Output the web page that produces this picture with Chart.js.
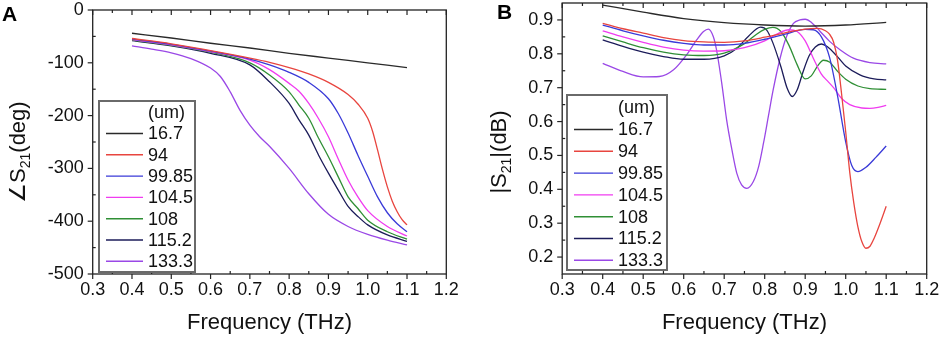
<!DOCTYPE html>
<html><head><meta charset="utf-8">
<script src="https://cdn.jsdelivr.net/npm/chart.js@4"></script>
<style>
html,body{margin:0;padding:0;background:#fff;width:941px;height:342px;overflow:hidden}
.p{position:absolute;top:0;height:342px}
#wa{left:0;width:470px}#wb{left:470px;width:471px}
</style></head><body>
<div class="p" id="wa"><canvas id="ca" width="470" height="342"></canvas></div>
<div class="p" id="wb"><canvas id="cb" width="471" height="342"></canvas></div>
<script>
// ---- data ----
const seriesLabels = ['16.7', '94', '99.85', '104.5', '108', '115.2', '133.3'];
const seriesColors = ['#2a2a2a', '#e8453f', '#3a3ad8', '#f03cf0', '#2f8f35', '#1c1c5a', '#9a48e6'];
const xTicks = [0.3, 0.4, 0.5, 0.6, 0.7, 0.8, 0.9, 1.0, 1.1, 1.2];
const yTicksA = [-500, -400, -300, -200, -100, 0];
const yTicksB = [0.2, 0.3, 0.4, 0.5, 0.6, 0.7, 0.8, 0.9];

// Panel A: phase of S21 (deg) vs frequency (THz)
const phase167 = [[0.4,-44],[0.5,-53],[0.6,-63],[0.7,-72],[0.8,-82],[0.9,-91],[1.0,-100],[1.1,-109]];
const phase94 = [[0.4,-54],[0.5,-64],[0.6,-77],[0.7,-91],[0.75,-99],[0.8,-109],[0.85,-121],[0.9,-137],[0.95,-160],[0.975,-178],[1.0,-205],[1.0125,-230],[1.025,-265],[1.0375,-302],[1.05,-335],[1.0625,-362],[1.075,-382],[1.0875,-397],[1.1,-407]];
const phase9985 = [[0.4,-55],[0.5,-65],[0.6,-78],[0.7,-93],[0.75,-104],[0.8,-118],[0.85,-137],[0.9,-168],[0.925,-196],[0.95,-233],[0.975,-275],[1.0,-315],[1.025,-354],[1.05,-384],[1.075,-405],[1.1,-420]];
const phase1045 = [[0.4,-56],[0.5,-66],[0.6,-79],[0.7,-95],[0.75,-113],[0.8,-139],[0.825,-154],[0.85,-177],[0.875,-206],[0.9,-240],[0.925,-282],[0.95,-322],[0.975,-354],[1.0,-380],[1.05,-410],[1.1,-428]];
const phase108 = [[0.4,-57],[0.5,-67],[0.6,-80],[0.7,-100],[0.75,-123],[0.8,-155],[0.825,-180],[0.85,-205],[0.875,-243],[0.9,-278],[0.925,-316],[0.95,-354],[0.975,-376],[1.0,-398],[1.05,-420],[1.1,-434]];
const phase1152 = [[0.4,-58],[0.5,-68],[0.6,-82],[0.7,-104],[0.75,-136],[0.8,-177],[0.825,-208],[0.85,-237],[0.875,-275],[0.9,-309],[0.925,-341],[0.95,-372],[0.975,-391],[1.0,-407],[1.05,-426],[1.1,-438]];
const phase1333 = [[0.4,-68],[0.45,-74],[0.5,-81],[0.55,-92],[0.6,-110],[0.625,-126],[0.65,-155],[0.675,-190],[0.7,-218],[0.725,-240],[0.75,-258],[0.8,-300],[0.85,-348],[0.9,-387],[0.95,-410],[1.0,-425],[1.05,-436],[1.1,-445]];

// Panel B: |S21| vs frequency (THz)
const mag167 = [[0.4,0.944],[0.5,0.923],[0.6,0.904],[0.7,0.892],[0.8,0.885],[0.9,0.882],[1.0,0.885],[1.1,0.893]];
const mag94 = [[0.4,0.890],[0.45,0.874],[0.5,0.861],[0.55,0.848],[0.6,0.839],[0.65,0.835],[0.7,0.834],[0.75,0.838],[0.8,0.849],[0.85,0.862],[0.9,0.873],[0.93,0.875],[0.95,0.868],[0.96,0.858],[0.97,0.835],[0.98,0.78],[0.99,0.68],[1.0,0.57],[1.01,0.45],[1.02,0.36],[1.03,0.29],[1.04,0.245],[1.05,0.226],[1.06,0.232],[1.07,0.255],[1.085,0.30],[1.1,0.35]];
const mag9985 = [[0.4,0.885],[0.45,0.868],[0.5,0.853],[0.55,0.840],[0.6,0.831],[0.65,0.826],[0.7,0.826],[0.75,0.831],[0.8,0.843],[0.85,0.858],[0.9,0.872],[0.92,0.871],[0.94,0.850],[0.96,0.790],[0.98,0.675],[1.0,0.54],[1.015,0.47],[1.03,0.452],[1.05,0.465],[1.075,0.495],[1.1,0.528]];
const mag1045 = [[0.4,0.868],[0.45,0.850],[0.5,0.834],[0.55,0.820],[0.6,0.811],[0.65,0.808],[0.7,0.809],[0.75,0.818],[0.8,0.838],[0.83,0.858],[0.86,0.871],[0.88,0.866],[0.9,0.838],[0.92,0.787],[0.94,0.740],[0.955,0.720],[0.97,0.700],[0.99,0.668],[1.01,0.650],[1.04,0.640],[1.06,0.639],[1.08,0.642],[1.1,0.648]];
const mag108 = [[0.4,0.853],[0.45,0.835],[0.5,0.818],[0.55,0.805],[0.6,0.797],[0.65,0.795],[0.7,0.802],[0.75,0.830],[0.78,0.858],[0.8,0.872],[0.82,0.878],[0.84,0.866],[0.86,0.825],[0.88,0.768],[0.9,0.726],[0.915,0.735],[0.93,0.763],[0.945,0.781],[0.96,0.776],[0.98,0.748],[1.0,0.725],[1.03,0.705],[1.06,0.697],[1.1,0.695]];
const mag1152 = [[0.4,0.841],[0.45,0.822],[0.5,0.805],[0.55,0.792],[0.6,0.784],[0.65,0.784],[0.7,0.794],[0.73,0.815],[0.76,0.852],[0.79,0.879],[0.805,0.870],[0.82,0.833],[0.84,0.762],[0.855,0.700],[0.868,0.674],[0.88,0.693],[0.895,0.748],[0.91,0.795],[0.925,0.820],[0.94,0.829],[0.955,0.821],[0.98,0.791],[1.0,0.764],[1.035,0.738],[1.07,0.726],[1.1,0.723]];
const mag1333 = [[0.4,0.772],[0.45,0.748],[0.5,0.732],[0.54,0.733],[0.575,0.753],[0.607,0.797],[0.632,0.841],[0.649,0.866],[0.661,0.873],[0.673,0.851],[0.681,0.812],[0.694,0.713],[0.706,0.605],[0.719,0.517],[0.731,0.448],[0.743,0.413],[0.756,0.403],[0.772,0.423],[0.785,0.467],[0.797,0.536],[0.809,0.615],[0.821,0.694],[0.838,0.787],[0.854,0.851],[0.871,0.890],[0.887,0.900],[0.9,0.902],[0.916,0.892],[0.937,0.866],[0.961,0.836],[0.986,0.812],[1.019,0.787],[1.06,0.774],[1.1,0.770]];

const phaseSeries = [phase167, phase94, phase9985, phase1045, phase108, phase1152, phase1333];
const magSeries = [mag167, mag94, mag9985, mag1045, mag108, mag1152, mag1333];

// ---- drawing ----
const FAM = "'Liberation Sans', Arial, 'DejaVu Sans', sans-serif";
const TXT = '#111';

function decor(cfg) {
  return {
    id: 'decor',
    afterDraw(chart) {
      const ctx = chart.ctx, a = chart.chartArea, xs = chart.scales.x, ys = chart.scales.y;
      ctx.save();
      const line = (x1, y1, x2, y2) => { ctx.beginPath(); ctx.moveTo(x1, y1); ctx.lineTo(x2, y2); ctx.stroke(); };
      ctx.strokeStyle = '#222';
      ctx.lineWidth = 1.3;
      ctx.strokeRect(a.left, a.top, a.right - a.left, a.bottom - a.top);
      ctx.lineWidth = 1.2;
      xTicks.forEach((v, i) => {
        const px = xs.getPixelForValue(v);
        line(px, a.bottom, px, a.bottom + 5);
        line(px, a.top, px, a.top + 5);
        if (i < xTicks.length - 1) {
          const pm = xs.getPixelForValue((v + xTicks[i + 1]) / 2);
          line(pm, a.bottom, pm, a.bottom - 3);
          line(pm, a.top, pm, a.top + 3);
        }
      });
      const yt = cfg.yTicks;
      yt.forEach((v, i) => {
        const py = ys.getPixelForValue(v);
        line(a.left - 5, py, a.left, py);
        if (i < yt.length - 1) {
          const pm = ys.getPixelForValue((v + yt[i + 1]) / 2);
          line(a.left, pm, a.left + 3, pm);
        }
      });
      // panel letter
      ctx.fillStyle = '#000';
      ctx.font = 'bold 21px ' + FAM;
      ctx.textBaseline = 'alphabetic';
      ctx.textAlign = 'left';
      ctx.fillText(cfg.letter, cfg.letterX, cfg.letterY);
      // y title with subscript
      ctx.save();
      ctx.translate(cfg.titleX, cfg.titleY);
      ctx.rotate(-Math.PI / 2);
      const big = '22px ' + FAM, small = '14px ' + FAM;
      let w = 0;
      cfg.titleParts.forEach(p => { ctx.font = p[1] ? small : big; w += ctx.measureText(p[0]).width; });
      let x = -w / 2;
      ctx.fillStyle = TXT;
      cfg.titleParts.forEach(p => {
        ctx.font = p[1] ? small : big;
        ctx.fillText(p[0], x, p[1] ? 13 : 8);
        x += ctx.measureText(p[0]).width;
      });
      ctx.restore();
      // legend
      const L = cfg.legend;
      ctx.fillStyle = '#fff';
      ctx.fillRect(L.x0, L.y0, L.x1 - L.x0, L.y1 - L.y0);
      ctx.strokeStyle = '#6a6a6a';
      ctx.lineWidth = 2;
      ctx.strokeRect(L.x0, L.y0, L.x1 - L.x0, L.y1 - L.y0);
      ctx.font = '18px ' + FAM;
      ctx.textBaseline = 'middle';
      ctx.fillStyle = TXT;
      ctx.fillText('(um)', L.tx, L.hy);
      chart.data.datasets.forEach((d, i) => {
        const y = L.ry + i * L.step;
        ctx.strokeStyle = d.borderColor;
        ctx.lineWidth = 1.4;
        line(L.lx0, y, L.lx1, y);
        ctx.fillStyle = TXT;
        ctx.fillText(d.label, L.tx, y + 1);
      });
      ctx.restore();
    }
  };
}

function makeChart(id, cfg) {
  const datasets = cfg.series.map((s, i) => ({
    label: seriesLabels[i],
    data: s.map(p => ({ x: p[0], y: p[1] })),
    borderColor: seriesColors[i],
    borderWidth: 1.3,
    pointRadius: 0,
    fill: false,
    cubicInterpolationMode: 'monotone'
  }));
  return new Chart(document.getElementById(id), {
    type: 'line',
    data: { datasets },
    options: {
      responsive: false,
      animation: false,
      devicePixelRatio: 1,
      layout: { padding: { top: cfg.padTop, right: cfg.padRight, left: 0, bottom: 0 } },
      plugins: { legend: { display: false }, tooltip: { enabled: false } },
      scales: {
        x: {
          type: 'linear', min: 0.3, max: 1.2,
          afterBuildTicks: s => { s.ticks = xTicks.map(v => ({ value: v })); },
          ticks: { callback: v => v.toFixed(1), font: { size: 18, family: FAM }, color: TXT, padding: 5, autoSkip: false, maxRotation: 0 },
          grid: { display: false, drawTicks: false },
          border: { display: false },
          title: { display: true, text: 'Frequency (THz)', font: { size: 22, family: FAM }, color: TXT, padding: { top: 0, bottom: 6 } },
          afterFit: s => { s.height = 342 - cfg.bottom; s.paddingLeft = 0; s.paddingRight = 0; }
        },
        y: {
          type: 'linear', min: cfg.ymin, max: cfg.ymax,
          afterBuildTicks: s => { s.ticks = cfg.yTicks.map(v => ({ value: v })); },
          ticks: { callback: cfg.fmt, font: { size: 18, family: FAM }, color: TXT, padding: 9, autoSkip: false },
          grid: { display: false, drawTicks: false },
          border: { display: false },
          afterFit: s => { s.width = cfg.left; s.paddingTop = 0; s.paddingBottom = 0; }
        }
      }
    },
    plugins: [decor(cfg)]
  });
}

makeChart('ca', {
  series: phaseSeries, ymin: -500, ymax: 0, yTicks: yTicksA, fmt: v => String(v),
  padTop: 10, padRight: 23.7, left: 92.7, bottom: 274,
  letter: 'A', letterX: 2, letterY: 21,
  titleX: 17, titleY: 152, titleParts: [['\u2220S', 0], ['21', 1], ['(deg)', 0]],
  legend: { x0: 99, y0: 101, x1: 195, y1: 272, tx: 148, hy: 113, ry: 133.5, step: 21.3, lx0: 106, lx1: 143 }
});
makeChart('cb', {
  series: magSeries, ymin: 0.15, ymax: 0.95, yTicks: yTicksB, fmt: v => v.toFixed(1),
  padTop: 3, padRight: 14.3, left: 92.2, bottom: 274,
  letter: 'B', letterX: 27, letterY: 18.5,
  titleX: 28, titleY: 152, titleParts: [['|S', 0], ['21', 1], ['|(dB)', 0]],
  legend: { x0: 97, y0: 95, x1: 197, y1: 270, tx: 148, hy: 108, ry: 129.5, step: 21.8, lx0: 104, lx1: 143 }
});
</script>
</body></html>
